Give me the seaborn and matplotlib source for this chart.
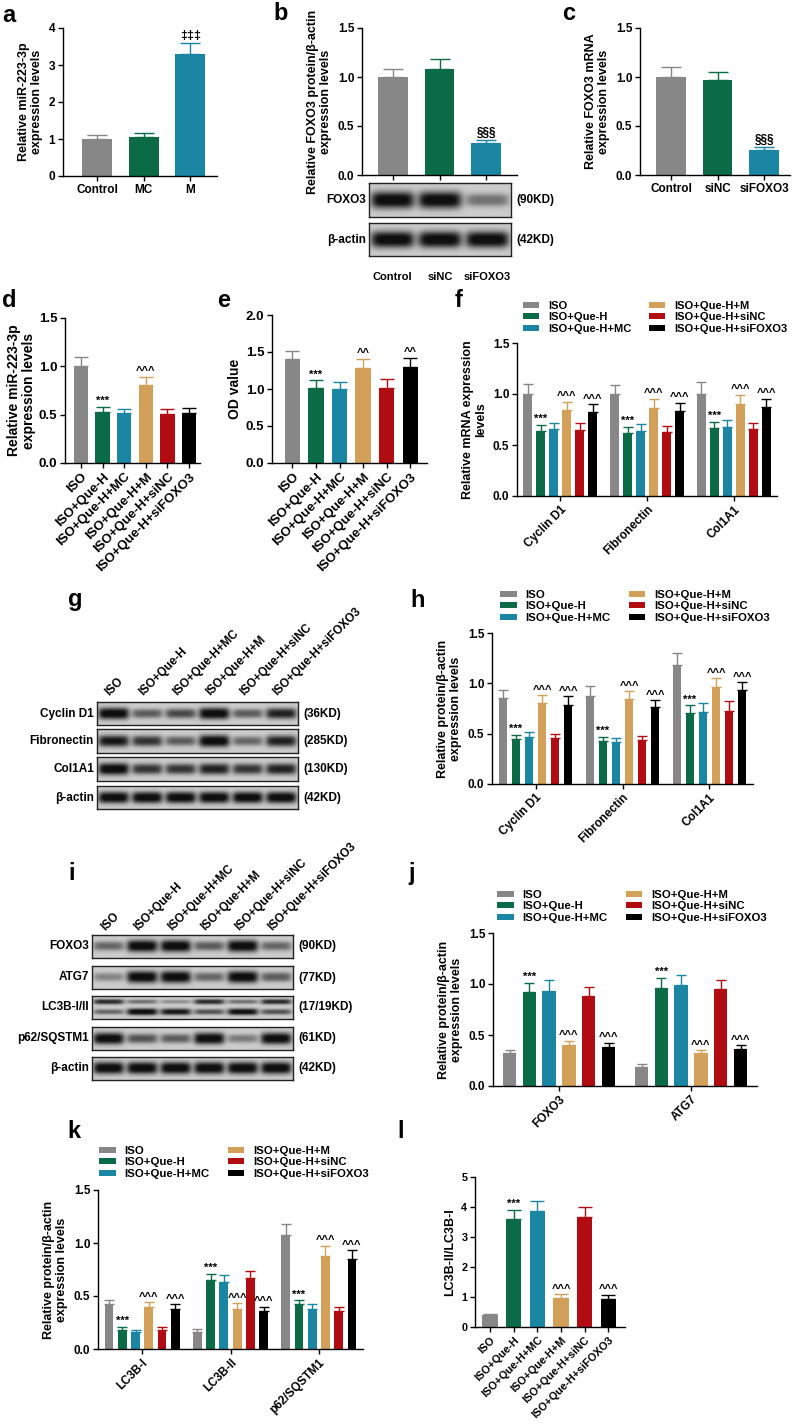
import numpy as np
import pandas as pd
import matplotlib
matplotlib.use("Agg")
import matplotlib.pyplot as plt
from matplotlib.colors import to_rgb
from matplotlib.container import BarContainer
import seaborn as sns

# ---------------- data ----------------
groups = ["ISO", "ISO+Que-H", "ISO+Que-H+MC", "ISO+Que-H+M", "ISO+Que-H+siNC", "ISO+Que-H+siFOXO3"]
group_colors = ["#878787", "#0b6b47", "#1b86a3", "#d3a05a", "#b00c12", "#000000"]

a_cats = ["Control", "MC", "M"]
a_vals = [1.0, 1.05, 3.3]
a_errs = [0.10, 0.12, 0.30]
a_marks = ["", "", "‡‡‡"]

si_cats = ["Control", "siNC", "siFOXO3"]
b_vals = [1.0, 1.08, 0.33]
b_errs = [0.08, 0.10, 0.03]
b_marks = ["", "", "§§§"]
c_vals = [1.0, 0.97, 0.26]
c_errs = [0.10, 0.08, 0.03]
c_marks = ["", "", "§§§"]

d_vals = [1.0, 0.53, 0.52, 0.81, 0.51, 0.52]
d_errs = [0.10, 0.05, 0.04, 0.08, 0.05, 0.05]
d_marks = ["", "***", "", "^^^", "", ""]

e_vals = [1.40, 1.02, 1.00, 1.29, 1.02, 1.30]
e_errs = [0.12, 0.10, 0.10, 0.12, 0.11, 0.12]
e_marks = ["", "***", "", "^^", "", "^^"]

fh_targets = ["Cyclin D1", "Fibronectin", "Col1A1"]
f_vals = [[1.00, 1.00, 1.00], [0.64, 0.62, 0.67], [0.66, 0.64, 0.68],
          [0.84, 0.86, 0.90], [0.65, 0.63, 0.66], [0.82, 0.83, 0.87]]
f_errs = [[0.10, 0.09, 0.12], [0.06, 0.06, 0.06], [0.06, 0.07, 0.07],
          [0.08, 0.09, 0.09], [0.07, 0.06, 0.06], [0.08, 0.08, 0.08]]
grp_marks = ["", "***", "", "^^^", "", "^^^"]

h_vals = [[0.85, 0.875, 1.18], [0.45, 0.43, 0.71], [0.47, 0.42, 0.72],
          [0.80, 0.84, 0.96], [0.46, 0.44, 0.73], [0.78, 0.76, 0.93]]
h_errs = [[0.08, 0.095, 0.12], [0.04, 0.04, 0.07], [0.05, 0.04, 0.08],
          [0.08, 0.08, 0.09], [0.04, 0.04, 0.09], [0.09, 0.07, 0.08]]

j_targets = ["FOXO3", "ATG7"]
j_vals = [[0.32, 0.19], [0.92, 0.96], [0.93, 0.99], [0.40, 0.32], [0.88, 0.95], [0.38, 0.36]]
j_errs = [[0.03, 0.03], [0.09, 0.10], [0.11, 0.10], [0.04, 0.03], [0.09, 0.09], [0.04, 0.04]]

k_targets = ["LC3B-I", "LC3B-II", "p62/SQSTM1"]
k_vals = [[0.42, 0.16, 1.08], [0.18, 0.65, 0.42], [0.16, 0.63, 0.38],
          [0.40, 0.38, 0.88], [0.18, 0.67, 0.36], [0.38, 0.36, 0.85]]
k_errs = [[0.04, 0.03, 0.10], [0.03, 0.06, 0.04], [0.02, 0.07, 0.04],
          [0.04, 0.05, 0.09], [0.03, 0.07, 0.04], [0.04, 0.04, 0.08]]

l_vals = [0.39, 3.60, 3.88, 0.98, 3.68, 0.95]
l_errs = [0.06, 0.30, 0.32, 0.11, 0.32, 0.12]
l_marks = ["", "***", "", "^^^", "", "^^^"]

# western blot band intensities (relative darkness per lane)
b_blot_foxo3 = [1.0, 1.0, 0.45]
b_blot_actin = [1.0, 1.0, 1.0]
g_cyclin = [1.0, 0.55, 0.65, 1.0, 0.55, 0.85]
g_fibro = [0.9, 0.75, 0.55, 1.0, 0.5, 0.85]
g_col = [1.0, 0.75, 0.75, 0.85, 0.75, 0.85]
g_actin = [1.0, 1.0, 1.0, 1.0, 1.0, 1.0]
i_foxo3 = [0.5, 1.0, 1.0, 0.55, 1.0, 0.5]
i_atg7 = [0.35, 1.0, 1.0, 0.5, 1.0, 0.55]
i_lc3_upper = [0.8, 0.45, 0.3, 0.8, 0.45, 0.8]
i_lc3_lower = [0.5, 1.0, 0.9, 0.6, 0.95, 0.6]
i_p62 = [1.0, 0.6, 0.55, 1.0, 0.4, 1.0]
i_actin = [1.0, 1.0, 1.0, 1.0, 1.0, 1.0]

# ---------------- style ----------------
sns.set_theme(style="ticks")
plt.rcParams["font.family"] = ["Liberation Sans", "DejaVu Sans"]
plt.rcParams.update({
    "font.weight": "bold",
    "axes.labelweight": "bold",
    "axes.linewidth": 1.0,
    "axes.edgecolor": "black",
    "xtick.color": "black",
    "ytick.color": "black",
    "text.color": "black",
    "axes.labelcolor": "black",
})

W, H = 800, 1424
fig = plt.figure(figsize=(W / 100, H / 100), dpi=100)


def px_axes(x0, y0, x1, y1):
    return fig.add_axes([x0 / W, 1 - y1 / H, (x1 - x0) / W, (y1 - y0) / H])


def ftext(x, y, s, **kw):
    fig.text(x / W, 1 - y / H, s, **kw)


def style_axes(ax, ylim, yticks, fmt, ylabel, xlim=None, rot=False, show_x=True,
               tsize=8.5, xsize=8.5, lsize=9, lpad=4):
    sns.despine(ax=ax)
    ax.set_ylim(*ylim)
    if xlim is not None:
        ax.set_xlim(*xlim)
    ax.set_yticks(yticks)
    ax.set_yticklabels([fmt.format(t) for t in yticks])
    ax.set_xlabel("")
    ax.set_ylabel(ylabel, fontsize=lsize, fontweight="bold", labelpad=lpad, linespacing=1.1)
    ax.tick_params(length=3.5, width=1.0, pad=2, labelsize=tsize)
    ax.tick_params(axis="x", labelsize=xsize)
    if not show_x:
        ax.set_xticklabels([])
    elif rot:
        for lbl in ax.get_xticklabels():
            lbl.set_rotation(45)
            lbl.set_ha("right")
            lbl.set_rotation_mode("anchor")
            lbl.set_fontweight("bold")


def add_errs(ax, colors, values, errors, marks, capsize, grouped=False, msize=8):
    rgb = [to_rgb(c) for c in colors]
    bars = [b for c in ax.containers if isinstance(c, BarContainer) for b in c]
    for bar in bars:
        fc = bar.get_facecolor()[:3]
        hits = [k for k, c in enumerate(rgb) if np.allclose(fc, c, atol=0.02)]
        if not hits:
            continue
        hi = hits[0]
        xc = bar.get_x() + bar.get_width() / 2
        ti = int(round(xc))
        if grouped:
            v, e, m = values[hi][ti], errors[hi][ti], marks[hi]
        else:
            v, e, m = values[hi], errors[hi], marks[hi]
        ax.errorbar([xc], [v], yerr=[[0], [e]], fmt="none", ecolor=colors[hi],
                    elinewidth=1.0, capsize=capsize, capthick=1.0, zorder=3)
        if m:
            ax.annotate(m, (xc, v + e), xytext=(0, 0.5), textcoords="offset points",
                        ha="center", va="bottom", fontsize=msize, fontweight="bold")


def simple_panel(rect, cats, vals, errs, marks, colors, ylim, yticks, fmt, ylabel,
                 xlim, width, capsize, rot=False, show_x=True, xsize=8.5, lsize=9,
                 lpad=4, msize=8):
    ax = px_axes(*rect)
    df = pd.DataFrame({"cat": cats, "val": vals})
    sns.barplot(data=df, x="cat", y="val", hue="cat", order=cats, hue_order=cats,
                palette=colors, width=width, saturation=1, errorbar=None,
                legend=False, ax=ax, linewidth=0)
    add_errs(ax, colors, vals, errs, marks, capsize, msize=msize)
    style_axes(ax, ylim, yticks, fmt, ylabel, xlim=xlim, rot=rot, show_x=show_x,
               tsize=xsize, xsize=xsize, lsize=lsize, lpad=lpad)
    return ax


def grouped_panel(rect, targets, vals, errs, ylabel, legend_anchor, ylim=(0, 1.5),
                  yticks=(0, 0.5, 1.0, 1.5), legsize=8.2):
    ax = px_axes(*rect)
    rows = []
    for g, gv in zip(groups, vals):
        for t, v in zip(targets, gv):
            rows.append({"target": t, "group": g, "value": v})
    df = pd.DataFrame(rows)
    sns.barplot(data=df, x="target", y="value", hue="group", order=targets,
                hue_order=groups, palette=group_colors, width=0.9, gap=0.33,
                saturation=1, errorbar=None, ax=ax, linewidth=0)
    add_errs(ax, group_colors, vals, errs, grp_marks, 3.5, grouped=True)
    hdl, lab = ax.get_legend_handles_labels()
    ax.legend(hdl, lab, ncol=2, loc="upper left",
              bbox_to_anchor=(legend_anchor[0] / W, 1 - legend_anchor[1] / H),
              bbox_transform=fig.transFigure, frameon=False, fontsize=legsize,
              handlelength=1.45, handleheight=0.45, handletextpad=0.8,
              columnspacing=1.6, labelspacing=0.12, borderpad=0, borderaxespad=0)
    style_axes(ax, ylim, yticks, "{:.1f}", ylabel, xlim=(-0.5, len(targets) - 0.5), rot=True)
    return ax


def blot(rect, bands, label, kd, fs=8.5):
    ax = px_axes(*rect)
    n = len(bands[0][1])
    nx, ny = n * 60, 40
    xs = (np.arange(nx) + 0.5) / nx * n
    ys = (np.arange(ny) + 0.5) / ny
    X, Y = np.meshgrid(xs, ys)
    img = np.full(X.shape, 0.80)
    for yc, ints, thick in bands:
        for i, b in enumerate(ints):
            px = np.exp(-np.abs((X - (i + 0.5)) / 0.46) ** 6)
            py = np.exp(-np.abs((Y - yc) / (thick * (0.55 + 0.45 * b))) ** 2.5)
            img -= 0.80 * b * px * py
    img = np.clip(img, 0.06, 1)
    ax.imshow(img, cmap="gray", vmin=0, vmax=1, aspect="auto", extent=(0, n, 0, 1),
              origin="lower", interpolation="bilinear")
    ax.set_xlim(0, n)
    ax.set_ylim(0, 1)
    ax.set_xticks([])
    ax.set_yticks([])
    for s in ax.spines.values():
        s.set_visible(True)
        s.set_linewidth(1.0)
        s.set_color("#222222")
    ax.annotate(label, xy=(0, 0.5), xycoords="axes fraction", xytext=(-3, 0),
                textcoords="offset pixels", ha="right", va="center", fontsize=fs,
                fontweight="bold")
    ax.annotate(kd, xy=(1, 0.5), xycoords="axes fraction", xytext=(5, 0),
                textcoords="offset pixels", ha="left", va="center", fontsize=fs,
                fontweight="bold")
    return ax


# ---------------- panels ----------------
# a
simple_panel((63, 28, 217, 176), a_cats, a_vals, a_errs, a_marks, group_colors[:3],
             (0, 4), [0, 1, 2, 3, 4], "{:.0f}", "Relative miR-223-3p\nexpression levels",
             (-0.73, 2.57), 0.64, 7, msize=9)
# b
simple_panel((362, 28, 517, 175), si_cats, b_vals, b_errs, b_marks, group_colors[:3],
             (0, 1.5), [0, 0.5, 1.0, 1.5], "{:.1f}",
             "Relative FOXO3 protein/β-actin\nexpression levels",
             (-0.66, 2.66), 0.64, 7, show_x=False, msize=8.5)
blot((369, 183, 511, 217), [(0.5, b_blot_foxo3, 0.25)], "FOXO3", "(90KD)")
bx = blot((369, 223, 511, 256), [(0.5, b_blot_actin, 0.25)], "β-actin", "(42KD)")
for i, lab in enumerate(si_cats):
    bx.annotate(lab, xy=(i + 0.5, 0), xycoords=("data", "axes fraction"), xytext=(0, -21),
                textcoords="offset pixels", ha="center", va="center", fontsize=8,
                fontweight="bold")
# c
simple_panel((640, 28, 790, 175), si_cats, c_vals, c_errs, c_marks, group_colors[:3],
             (0, 1.5), [0, 0.5, 1.0, 1.5], "{:.1f}", "Relative FOXO3 mRNA\nexpression levels",
             (-0.67, 2.56), 0.64, 7, msize=8.5)
# d
simple_panel((65, 318, 200, 463), groups, d_vals, d_errs, d_marks, group_colors,
             (0, 1.5), [0, 0.5, 1.0, 1.5], "{:.1f}", "Relative miR-223-3p\nexpression levels",
             (-0.74, 5.51), 0.66, 5, rot=True, xsize=9.5, lsize=10, lpad=2)
# e
simple_panel((272, 315, 427, 463), groups, e_vals, e_errs, e_marks, group_colors,
             (0, 2.0), [0, 0.5, 1.0, 1.5, 2.0], "{:.1f}", "OD value",
             (-0.87, 5.72), 0.64, 5, rot=True, xsize=9.5, lsize=10, lpad=3)
# f
grouped_panel((517, 343, 777, 496), fh_targets, f_vals, f_errs,
              "Relative mRNA expression\nlevels", (523, 301), legsize=8)
# g blots
g_rows = [((97, 702, 298, 725), g_cyclin, "Cyclin D1", "(36KD)"),
          ((97, 729, 298, 753), g_fibro, "Fibronectin", "(285KD)"),
          ((97, 757, 298, 781), g_col, "Col1A1", "(130KD)"),
          ((97, 786, 298, 809), g_actin, "β-actin", "(42KD)")]
g_axes = [blot(r, [(0.5, v, 0.25)], l, k) for r, v, l, k in g_rows]
for i, lab in enumerate(groups):
    g_axes[0].annotate(lab, xy=(i + 0.5, 1), xycoords=("data", "axes fraction"),
                       xytext=(-4, 6), textcoords="offset pixels", rotation=45,
                       ha="left", va="baseline", rotation_mode="anchor", fontsize=8.5,
                       fontweight="bold")
# h
grouped_panel((492, 633, 753, 784), fh_targets, h_vals, h_errs,
              "Relative protein/β-actin\nexpression levels", (500, 590))
# i blots
i_rows = [((92, 935, 293, 958), [(0.5, i_foxo3, 0.25)], "FOXO3", "(90KD)"),
          ((92, 966, 293, 989), [(0.5, i_atg7, 0.25)], "ATG7", "(77KD)"),
          ((92, 996, 293, 1019), [(0.72, i_lc3_upper, 0.12), (0.3, i_lc3_lower, 0.14)],
           "LC3B-I/II", "(17/19KD)"),
          ((92, 1027, 293, 1050), [(0.5, i_p62, 0.25)], "p62/SQSTM1", "(61KD)"),
          ((92, 1057, 293, 1080), [(0.5, i_actin, 0.25)], "β-actin", "(42KD)")]
i_axes = [blot(r, b, l, k) for r, b, l, k in i_rows]
for i, lab in enumerate(groups):
    i_axes[0].annotate(lab, xy=(i + 0.5, 1), xycoords=("data", "axes fraction"),
                       xytext=(-4, 4), textcoords="offset pixels", rotation=45,
                       ha="left", va="baseline", rotation_mode="anchor", fontsize=8.5,
                       fontweight="bold")
# j
grouped_panel((493, 933, 757, 1086), j_targets, j_vals, j_errs,
              "Relative protein/β-actin\nexpression levels", (497, 890))
# k
grouped_panel((98, 1190, 363, 1349), k_targets, k_vals, k_errs,
              "Relative protein/β-actin\nexpression levels", (99, 1146))
# l
simple_panel((475, 1177, 625, 1327), groups, l_vals, l_errs, l_marks, group_colors,
             (0, 5), [0, 1, 2, 3, 4, 5], "{:.0f}", "LC3B-II/LC3B-I",
             (-0.63, 5.7), 0.64, 5, rot=True, xsize=7.8)

# panel letters
for letter, (x, y) in {"a": (2, 22), "b": (273, 20), "c": (562, 20), "d": (2, 307),
                       "e": (217, 307), "f": (455, 307), "g": (68, 606), "h": (410, 607),
                       "i": (68, 880), "j": (408, 880), "k": (67, 1138),
                       "l": (397, 1138)}.items():
    ftext(x, y, letter, fontsize=17, fontweight="bold", va="baseline", ha="left")

fig.savefig("out.png", dpi=100, facecolor="white")
